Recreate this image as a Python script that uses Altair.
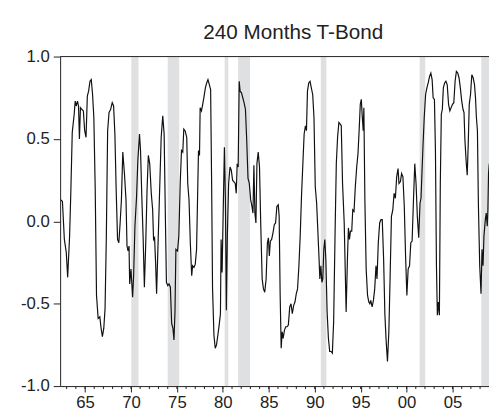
import altair as alt
import pandas as pd

TITLE = "240 Months T-Bond"

years = [
    1962.39, 1962.54, 1962.75, 1962.96, 1963.11, 1963.32, 1963.46, 1963.61, 1963.82, 1963.93,
    1964.04, 1964.18, 1964.29, 1964.39, 1964.50, 1964.64, 1964.82, 1964.96, 1965.11, 1965.25,
    1965.39, 1965.54, 1965.68, 1965.82, 1965.96, 1966.11, 1966.25, 1966.43, 1966.61, 1966.75,
    1966.89, 1967.04, 1967.18, 1967.32, 1967.46, 1967.61, 1967.79, 1967.96, 1968.11, 1968.25,
    1968.39, 1968.54, 1968.68, 1968.82, 1968.96, 1969.11, 1969.29, 1969.46, 1969.57, 1969.68,
    1969.79, 1969.86, 1970.00, 1970.18, 1970.29, 1970.43, 1970.61, 1970.75, 1970.93, 1971.04,
    1971.18, 1971.32, 1971.46, 1971.61, 1971.75, 1971.89, 1972.04, 1972.21, 1972.36, 1972.46,
    1972.57, 1972.68, 1972.79, 1972.93, 1973.11, 1973.29, 1973.46, 1973.61, 1973.75, 1973.86,
    1974.00, 1974.14, 1974.29, 1974.43, 1974.57, 1974.68, 1974.79, 1974.89, 1975.07, 1975.21,
    1975.36, 1975.50, 1975.64, 1975.75, 1975.89, 1976.07, 1976.18, 1976.32, 1976.46, 1976.61,
    1976.71, 1976.86, 1977.00, 1977.14, 1977.35, 1977.46, 1977.53, 1977.67, 1977.81, 1977.96,
    1978.10, 1978.24, 1978.38, 1978.53, 1978.67, 1978.78, 1978.88, 1979.03, 1979.17, 1979.31,
    1979.46, 1979.60, 1979.74, 1979.81, 1979.92, 1980.03, 1980.17, 1980.28, 1980.38, 1980.49,
    1980.63, 1980.78, 1980.92, 1981.06, 1981.21, 1981.35, 1981.46, 1981.56, 1981.67, 1981.78,
    1981.88, 1982.03, 1982.17, 1982.31, 1982.46, 1982.60, 1982.74, 1982.88, 1983.03, 1983.17,
    1983.28, 1983.38, 1983.49, 1983.60, 1983.71, 1983.85, 1983.99, 1984.13, 1984.28, 1984.42,
    1984.56, 1984.71, 1984.85, 1984.96, 1985.06, 1985.17, 1985.31, 1985.46, 1985.60, 1985.74,
    1985.88, 1986.03, 1986.13, 1986.24, 1986.35, 1986.46, 1986.56, 1986.71, 1986.85, 1986.99,
    1987.13, 1987.28, 1987.42, 1987.56, 1987.71, 1987.85, 1987.99, 1988.13, 1988.28, 1988.42,
    1988.56, 1988.71, 1988.85, 1988.99, 1989.10, 1989.21, 1989.35, 1989.49, 1989.63, 1989.78,
    1989.92, 1990.06, 1990.21, 1990.35, 1990.46, 1990.56, 1990.67, 1990.78, 1990.88, 1990.99,
    1991.10, 1991.21, 1991.35, 1991.49, 1991.63, 1991.78, 1991.92, 1992.06, 1992.21, 1992.35,
    1992.49, 1992.63, 1992.78, 1992.89, 1993.03, 1993.21, 1993.35, 1993.42, 1993.57, 1993.67,
    1993.78, 1993.89, 1994.03, 1994.14, 1994.28, 1994.42, 1994.57, 1994.71, 1994.85, 1994.96,
    1995.07, 1995.17, 1995.28, 1995.35, 1995.46, 1995.60, 1995.75, 1995.89, 1996.00, 1996.10,
    1996.25, 1996.39, 1996.53, 1996.67, 1996.78, 1996.92, 1997.07, 1997.21, 1997.35, 1997.50,
    1997.64, 1997.78, 1997.92, 1998.07, 1998.21, 1998.35, 1998.50, 1998.64, 1998.78, 1998.92,
    1999.07, 1999.17, 1999.32, 1999.46, 1999.60, 1999.75, 1999.89, 2000.03, 2000.17, 2000.32,
    2000.46, 2000.60, 2000.75, 2000.89, 2001.03, 2001.17, 2001.32, 2001.46, 2001.57, 2001.67,
    2001.78, 2001.92, 2002.07, 2002.21, 2002.35, 2002.50, 2002.64, 2002.78, 2002.89, 2003.03,
    2003.14, 2003.25, 2003.35, 2003.46, 2003.57, 2003.67, 2003.78, 2003.89, 2004.00, 2004.14,
    2004.28, 2004.42, 2004.57, 2004.71, 2004.85, 2005.00, 2005.14, 2005.28, 2005.42, 2005.57,
    2005.71, 2005.85, 2006.00, 2006.14, 2006.25, 2006.35, 2006.50, 2006.60, 2006.71, 2006.82,
    2006.96, 2007.10, 2007.25, 2007.39, 2007.50, 2007.60, 2007.71, 2007.82, 2007.96, 2008.10,
    2008.21, 2008.32, 2008.42, 2008.57, 2008.67, 2008.78, 2008.85, 2008.92, 2009.00,
]

values = [
    0.13, 0.12, -0.11, -0.19, -0.34, -0.09, 0.19, 0.54, 0.65, 0.73,
    0.70, 0.73, 0.70, 0.50, 0.69, 0.68, 0.67, 0.55, 0.51, 0.76,
    0.79, 0.85, 0.86, 0.77, 0.63, 0.19, -0.45, -0.59, -0.58, -0.65,
    -0.70, -0.65, -0.53, -0.09, 0.55, 0.66, 0.68, 0.72, 0.70, 0.53,
    0.19, -0.11, -0.13, -0.01, 0.13, 0.42, 0.29, 0.13, -0.15, -0.18,
    -0.15, -0.38, -0.29, -0.46, -0.33, -0.03, 0.15, 0.37, 0.53, 0.43,
    0.15, -0.09, -0.40, -0.13, 0.19, 0.40, 0.35, 0.17, 0.07, -0.11,
    -0.10, -0.25, -0.44, -0.17, 0.17, 0.51, 0.64, 0.53, 0.01, -0.37,
    -0.39, -0.38, -0.40, -0.62, -0.65, -0.72, -0.55, -0.17, -0.18, -0.09,
    0.23, 0.43, 0.42, 0.56, 0.55, 0.51, 0.23, 0.13, -0.13, -0.33,
    -0.27, -0.28, -0.26, -0.17, 0.43, 0.40, 0.69, 0.67, 0.71, 0.76,
    0.81, 0.84, 0.86, 0.83, 0.80, 0.23, -0.41, -0.69, -0.77, -0.75,
    -0.69, -0.63, -0.56, -0.11, -0.31, 0.03, 0.45, 0.13, -0.54, -0.09,
    0.23, 0.33, 0.31, 0.25, 0.24, 0.23, 0.17, 0.35, 0.33, 0.85,
    0.79, 0.78, 0.75, 0.72, 0.68, 0.49, 0.26, 0.23, 0.13, 0.09,
    0.05, 0.34, 0.05, -0.01, 0.35, 0.42, 0.33, -0.03, -0.35, -0.41,
    -0.43, -0.35, -0.13, -0.10, -0.21, -0.12, -0.11, -0.07, -0.02, -0.01,
    0.09, 0.10, 0.03, -0.45, -0.77, -0.67, -0.71, -0.66, -0.64, -0.64,
    -0.63, -0.52, -0.50, -0.56, -0.51, -0.49, -0.44, -0.41, -0.27, -0.09,
    0.15, 0.35, 0.53, 0.58, 0.55, 0.79, 0.84, 0.85, 0.81, 0.77,
    0.63, 0.21, 0.11, -0.07, -0.21, -0.35, -0.27, -0.37, -0.35, -0.17,
    -0.11, -0.23, -0.55, -0.71, -0.79, -0.79, -0.80, -0.61, -0.09, 0.35,
    0.51, 0.60, 0.59, 0.58, 0.23, -0.01, -0.37, -0.55, -0.21, -0.04,
    -0.11, -0.06, -0.06, 0.07, 0.06, 0.21, 0.33, 0.41, 0.57, 0.71,
    0.74, 0.64, 0.55, 0.69, 0.13, -0.29, -0.45, -0.49, -0.50, -0.48,
    -0.52, -0.48, -0.41, -0.27, -0.35, -0.13, -0.01, 0.01, 0.01, -0.23,
    -0.57, -0.73, -0.85, -0.67, -0.33, 0.03, 0.07, 0.17, 0.14, 0.27,
    0.32, 0.23, 0.24, 0.29, 0.27, 0.09, -0.21, -0.45, -0.29, -0.27,
    -0.13, -0.12, 0.13, 0.35, 0.23, 0.03, -0.10, 0.11, 0.14, 0.29,
    0.45, 0.63, 0.77, 0.81, 0.84, 0.88, 0.90, 0.86, 0.75, 0.74,
    0.43, -0.27, -0.57, -0.49, -0.57, 0.23, 0.65, 0.68, 0.81, 0.84,
    0.85, 0.83, 0.71, 0.67, 0.69, 0.71, 0.72, 0.85, 0.91, 0.90,
    0.87, 0.81, 0.73, 0.68, 0.66, 0.49, 0.35, 0.28, 0.47, 0.71,
    0.77, 0.89, 0.87, 0.83, 0.75, 0.63, 0.55, 0.09, -0.27, -0.44,
    -0.17, -0.27, -0.09, 0.01, 0.05, -0.03, 0.07, 0.29, 0.35,
]

rec_start = [1970.04, 1974.00, 1980.20, 1981.66, 1990.66, 2001.42, 2008.13]
rec_end = [1970.82, 1975.25, 1980.59, 1982.95, 1991.27, 2002.03, 2009.50]

x_ticks = [1965, 1970, 1975, 1980, 1985, 1990, 1995, 2000, 2005]
minor_years = list(range(1963, 2009))
y_ticks = [-1.0, -0.5, 0.0, 0.5, 1.0]

W, H = 436, 335
X_DOMAIN = [1962.29, 2008.97]
FONT = "Liberation Sans"
INK = "#222222"

series = pd.DataFrame({"year": years, "value": values})
bands_df = pd.DataFrame({"start": rec_start, "end": rec_end})
minor_df = pd.DataFrame({"yr": minor_years})
title_df = pd.DataFrame({"t": [TITLE]})

xscale = alt.Scale(domain=X_DOMAIN, nice=False, zero=False)
yscale = alt.Scale(domain=[-1, 1], nice=False, zero=False)

xaxis = alt.Axis(
    values=x_ticks,
    labelExpr="(datum.value % 100 < 10 ? '0' : '') + toString(datum.value % 100)",
    tickSize=6, labelPadding=3, grid=False, title=None,
    labelOverlap=False, labelFlush=False, labelFontSize=17,
)
yaxis = alt.Axis(
    values=y_ticks,
    labelExpr="datum.value < 0 ? '-' + format(-datum.value, '.1f') : format(datum.value, '.1f')",
    tickSize=7, labelPadding=4, grid=False, title=None,
    labelOverlap=False, labelFlush=False, labelFontSize=17,
)

bands = alt.Chart(bands_df).mark_rect(color="#dfe0e2", clip=True).encode(
    x=alt.X("start:Q", scale=xscale, axis=xaxis),
    x2="end:Q",
    y=alt.value(0),
    y2=alt.value(H),
)

line = alt.Chart(series).mark_line(color="#111111", strokeWidth=1.2, clip=True).encode(
    x=alt.X("year:Q", scale=xscale, axis=xaxis),
    y=alt.Y("value:Q", scale=yscale, axis=yaxis),
)

minor = alt.Chart(minor_df).mark_rule(color=INK, strokeWidth=1).encode(
    x=alt.X("yr:Q", scale=xscale, axis=xaxis),
    y=alt.value(H),
    y2=alt.value(H + 3),
)

top_frame = alt.Chart(title_df).mark_rule(color=INK, strokeWidth=1).encode(
    x=alt.value(0), x2=alt.value(W), y=alt.value(0),
)

title = alt.Chart(title_df).mark_text(
    font=FONT, fontSize=21, color=INK, align="center", baseline="alphabetic",
).encode(text="t:N", x=alt.value(237), y=alt.value(-18))

chart = alt.layer(bands, line, minor, top_frame, title).properties(
    width=W, height=H,
    autosize=alt.AutoSizeParams(type="none"),
    padding={"left": 53, "top": 46, "right": 0, "bottom": 25},
    background="white",
).configure_view(stroke=None).configure_axis(
    domainColor=INK, tickColor=INK, labelColor=INK,
    labelFont=FONT, domainWidth=1, tickWidth=1,
)

chart.save("out.html", embed_options={"renderer": "svg", "actions": False})
